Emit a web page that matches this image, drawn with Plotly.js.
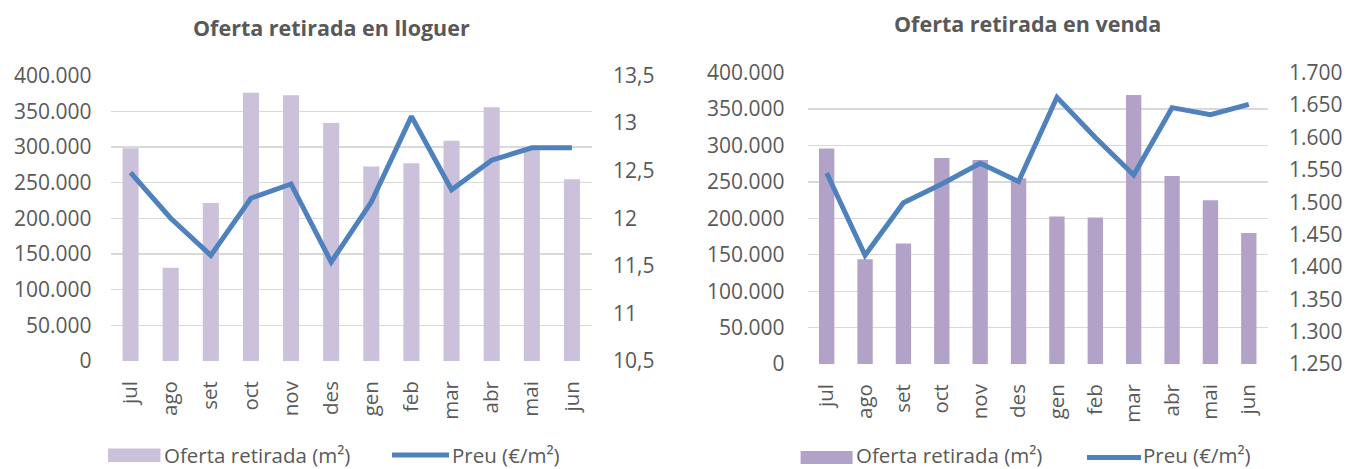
<!DOCTYPE html>
<html>
<head>
<meta charset="utf-8">
<script src="https://cdn.plot.ly/plotly-3.0.1.min.js"></script>
<style>html,body{margin:0;padding:0;background:#fff;}#chart{width:1348px;height:469px;}</style>
</head>
<body>
<div id="chart"></div>
<script>
var months = ['jul','ago','set','oct','nov','des','gen','feb','mar','abr','mai','jun'];
var lloguerOferta = [298000,130500,221500,376000,372500,333500,272500,277000,308500,355500,296000,254500];
var lloguerPreu = [12.48,12.00,11.61,12.21,12.36,11.54,12.17,13.07,12.30,12.61,12.74,12.74];
var vendaOferta = [296000,144000,165500,283000,280000,255000,202500,201000,369500,258000,225000,180000];
var vendaPreu = [1545,1418,1499,1528,1560,1532,1662,1600,1542,1646,1635,1651];
var seriesNames = ['Oferta retirada (m²)','Preu (€/m²)'];
var titles = ['Oferta retirada en lloguer','Oferta retirada en venda'];

var W = 1348, H = 469;
function px(x){return x/W;}
function py(y){return 1-y/H;}
var txt = '#595959', grid = '#D9D9D9', lineCol = '#4F81BD';
var barL = '#CCC1DA', barR = '#B3A2C7';
var FONT = 'Open Sans, sans-serif';

var traces = [
  {type:'bar', x:months, y:lloguerOferta, xaxis:'x', yaxis:'y', marker:{color:barL}, name:seriesNames[0], showlegend:false, hoverinfo:'none'},
  {type:'scatter', mode:'lines', x:months, y:lloguerPreu, xaxis:'x', yaxis:'y2', line:{color:lineCol, width:5}, name:seriesNames[1], showlegend:false, hoverinfo:'none'},
  {type:'bar', x:months, y:vendaOferta, xaxis:'x2', yaxis:'y3', marker:{color:barR}, name:seriesNames[0], showlegend:false, hoverinfo:'none'},
  {type:'scatter', mode:'lines', x:months, y:vendaPreu, xaxis:'x2', yaxis:'y4', line:{color:lineCol, width:5}, name:seriesNames[1], showlegend:false, hoverinfo:'none'}
];

var tf = {family:FONT, size:21, color:txt};
var lf = {family:FONT, size:20.5, color:txt};
function xax(dom, anchor){
  return {domain:dom, anchor:anchor, type:'category', showgrid:false, showline:false, zeroline:false, ticks:'', tickangle:-90, tickfont:{family:FONT, size:20.5, color:txt}, ticklabelstandoff:15, fixedrange:true};
}
function yleft(dom, anchor, standoff){
  return {domain:dom, anchor:anchor, range:[0,400000], dtick:50000, tick0:0, tickformat:',d', showgrid:true, gridcolor:grid, gridwidth:1.3, zeroline:false, showline:false, ticks:'', tickfont:tf, ticklabelstandoff:standoff, fixedrange:true};
}
function yright(over, anchor, range, dtick, fmt, standoff){
  return {overlaying:over, anchor:anchor, side:'right', range:range, dtick:dtick, tick0:range[0], tickformat:fmt, showgrid:false, zeroline:false, showline:false, ticks:'', tickfont:tf, ticklabelstandoff:standoff, fixedrange:true};
}

var layout = {
  width:W, height:H,
  margin:{l:0,r:0,t:0,b:0},
  paper_bgcolor:'#fff', plot_bgcolor:'#fff',
  separators:',.',
  bargap:0.6,
  showlegend:false,
  font:{family:FONT, color:txt},
  xaxis: xax([px(110.5), px(592)], 'y'),
  yaxis: yleft([py(361), py(75.5)], 'x', 18),
  yaxis2: yright('y', 'x', [10.5,13.5], 0.5, ',.1~f', 20),
  xaxis2: xax([px(807.5), px(1268)], 'y3'),
  yaxis3: yleft([py(364), py(72.7)], 'x2', 22),
  yaxis4: yright('y3', 'x2', [1250,1700], 50, ',d', 20),
  annotations:[
    {xref:'paper', yref:'paper', x:px(331.7), y:py(27), xanchor:'center', yanchor:'middle', showarrow:false, text:'<b>'+titles[0]+'</b>', font:{family:FONT, size:21.5, color:txt}},
    {xref:'paper', yref:'paper', x:px(1027), y:py(23), xanchor:'center', yanchor:'middle', showarrow:false, text:'<b>'+titles[1]+'</b>', font:{family:FONT, size:21.5, color:txt}},
    {xref:'paper', yref:'paper', x:px(163), y:py(455), xanchor:'left', yanchor:'middle', showarrow:false, borderpad:0, text:seriesNames[0], font:lf},
    {xref:'paper', yref:'paper', x:px(451), y:py(455), xanchor:'left', yanchor:'middle', showarrow:false, borderpad:0, text:seriesNames[1], font:lf},
    {xref:'paper', yref:'paper', x:px(855), y:py(455), xanchor:'left', yanchor:'middle', showarrow:false, borderpad:0, text:seriesNames[0], font:lf},
    {xref:'paper', yref:'paper', x:px(1142), y:py(455), xanchor:'left', yanchor:'middle', showarrow:false, borderpad:0, text:seriesNames[1], font:lf}
  ],
  shapes:[
    {type:'rect', xref:'paper', yref:'paper', x0:px(108), x1:px(160.5), y0:py(462), y1:py(448.5), fillcolor:barL, line:{width:0}},
    {type:'line', xref:'paper', yref:'paper', x0:px(392), x1:px(449), y0:py(455), y1:py(455), line:{color:lineCol, width:5}},
    {type:'rect', xref:'paper', yref:'paper', x0:px(800.6), x1:px(852.6), y0:py(464), y1:py(451), fillcolor:barR, line:{width:0}},
    {type:'line', xref:'paper', yref:'paper', x0:px(1087), x1:px(1141), y0:py(457.5), y1:py(457.5), line:{color:lineCol, width:5}}
  ]
};

Plotly.newPlot('chart', traces, layout, {displayModeBar:false, staticPlot:true});
</script>
</body>
</html>
